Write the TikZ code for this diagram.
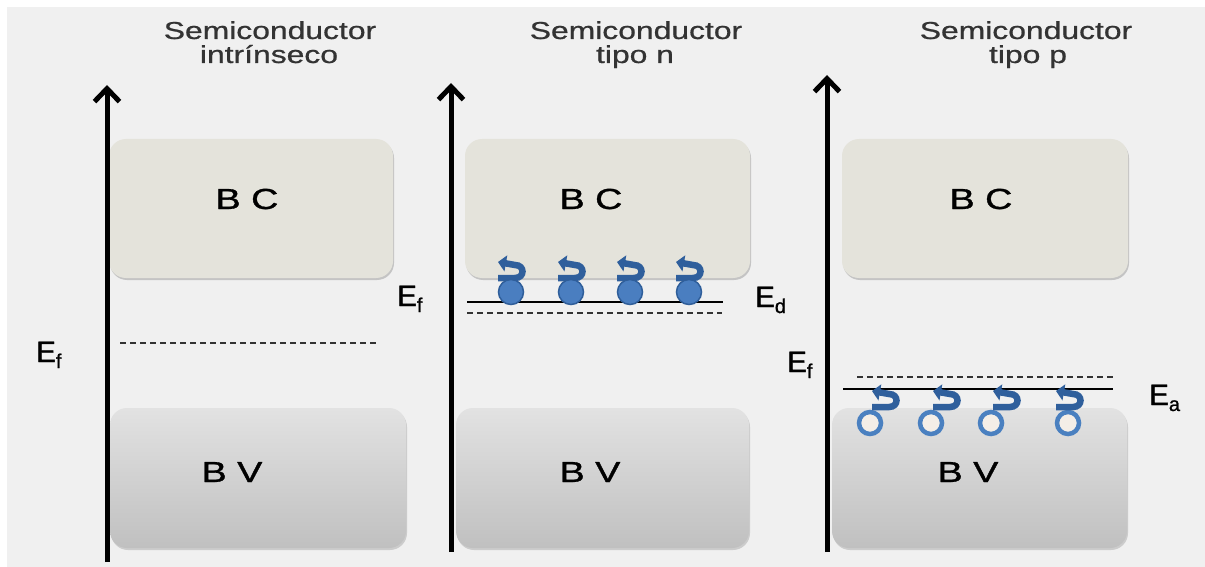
\documentclass[tikz,border=0pt]{standalone}
\usepackage{fontspec}
\setmainfont{Liberation Sans}
\newfontfamily\hv{Liberation Sans}[FakeBold=0.6]
\newfontfamily\hvb{Liberation Sans}[FakeBold=1.0]
\usepackage{graphicx}
\usetikzlibrary{arrows.meta,shadows}
\definecolor{bgc}{HTML}{F0F0F0}
\definecolor{bcfill}{HTML}{E4E3DB}
\definecolor{bvtop}{HTML}{E2E2E2}
\definecolor{bvbot}{HTML}{C0C0C0}
\definecolor{efill}{HTML}{4A7EC0}
\definecolor{edraw}{HTML}{2F5E9A}
\definecolor{curlc}{HTML}{2F5F9C}
\definecolor{holec}{HTML}{4A80C0}
\definecolor{holein}{HTML}{F4EEE7}
\definecolor{titlec}{HTML}{333333}
\newcommand{\wtxt}[1]{\scalebox{1.3}[1]{#1}}
\newcommand{\elab}[2]{E\raisebox{-6pt}{\fontsize{20}{20}\selectfont #2}}
\begin{document}
\begin{tikzpicture}[x=1pt,y=-1pt,
  axisarrow/.style={line width=5pt,-{Straight Barb[length=13pt,width=25pt]}},
  bcbox/.style={rectangle,rounded corners=17pt,fill=bcfill,minimum width=284pt,minimum height=139pt,inner sep=0pt,
     drop shadow={shadow xshift=1pt,shadow yshift=-2pt,opacity=0.18,fill=black}},
  bvbox/.style={rectangle,rounded corners=17pt,top color=bvtop,bottom color=bvbot,minimum width=294pt,minimum height=140pt,inner sep=0pt,
     drop shadow={shadow xshift=1pt,shadow yshift=-2pt,opacity=0.15,fill=black}},
  title/.style={anchor=base,inner sep=0pt,text=titlec,font=\hv\fontsize{24.5}{26}\selectfont},
  band/.style={anchor=base,inner sep=0pt,text=black,font=\hvb\fontsize{29}{30}\selectfont},
  elabel/.style={anchor=base west,inner sep=0pt,text=black,font=\hvb\fontsize{29.5}{30}\selectfont},
  dashedlevel/.style={line width=1.1pt,dash pattern=on 6pt off 4pt,black!80},
  solidlevel/.style={line width=1.4pt,black},
  electron/.style={circle,fill=efill,draw=edraw,line width=1.5pt,minimum size=25pt,inner sep=0pt},
  hole/.style={circle,fill=holein,draw=holec,line width=4.5pt,minimum size=22pt,inner sep=0pt},
  curl/.style={line width=6.5pt,draw=curlc,-{Triangle[length=8pt,width=16pt]}}
]
\useasboundingbox (0,0) rectangle (1205,567);
\fill[white] (0,0) rectangle (1205,567);
\fill[bgc] (7,7) rectangle (1205,567);

% titles
\node[title] (t1a) at (270,39) {\wtxt{Semiconductor}};
\node[title] (t1b) at (269,63) {\wtxt{intrínseco}};
\node[title] (t2a) at (636,39) {\wtxt{Semiconductor}};
\node[title] (t2b) at (635,63) {\wtxt{tipo n}};
\node[title] (t3a) at (1026,39) {\wtxt{Semiconductor}};
\node[title] (t3b) at (1028,63) {\wtxt{tipo p}};

% bands
\node[bcbox] (bc1) at (251,208.5) {};
\node[bcbox,minimum width=285pt] (bc2) at (607.5,208.5) {};
\node[bcbox,minimum width=286pt] (bc3) at (985,208.5) {};
\node[bvbox,minimum width=296pt] (bv1) at (258,478) {};
\node[bvbox,minimum width=293pt] (bv2) at (602.5,478) {};
\node[bvbox,minimum width=295pt] (bv3) at (979.5,478) {};

\node[band] (bc1t) at (247,209) {\wtxt{B C}};
\node[band] (bc2t) at (591,209) {\wtxt{B C}};
\node[band] (bc3t) at (981,209) {\wtxt{B C}};
\node[band] (bv1t) at (232,482) {\wtxt{B V}};
\node[band] (bv2t) at (590,482) {\wtxt{B V}};
\node[band] (bv3t) at (968,482) {\wtxt{B V}};

% energy axes
\coordinate (a1b) at (107,562); \coordinate (a1t) at (107,85);
\coordinate (a2b) at (451,552); \coordinate (a2t) at (451,83);
\coordinate (a3b) at (827,552); \coordinate (a3t) at (827,75);
\draw[axisarrow] (a1b) -- (a1t);
\draw[axisarrow] (a2b) -- (a2t);
\draw[axisarrow] (a3b) -- (a3t);

% levels
\draw[dashedlevel] (120,343) -- (377,343);
\draw[solidlevel] (467,302) -- (723,302);
\draw[dashedlevel] (467,313) -- (722,313);
\draw[dashedlevel] (857,377) -- (1113,377);
\draw[solidlevel] (843,389) -- (1113,389);

% labels
\node[elabel] (ef1) at (36,362) {\elab{E}{f}};
\node[elabel] (ef2) at (397,306) {\elab{E}{f}};
\node[elabel] (ed) at (755,307) {\elab{E}{d}};
\node[elabel] (ef3) at (787,372) {\elab{E}{f}};
\node[elabel] (ea) at (1149,405) {\elab{E}{a}};

% electrons (n-type)
\foreach \cx [count=\i] in {511,571,630,689} {
  \draw[curl,shift={(\cx-13,278)}] (0,0) -- (17,0) .. controls (27,0) and (27,-13) .. (17,-13) -- (0,-16);
  \node[electron] (el\i) at (\cx,292) {};
}

% holes (p-type)
\foreach \cx/\sx [count=\i] in {870/872,931/933,991/993,1068/1056} {
  \node[hole] (h\i) at (\cx,423) {};
  \draw[curl,shift={(\sx,407)}] (0,0) -- (17,0) .. controls (27,0) and (27,-13) .. (17,-13) -- (0,-16);
}
\end{tikzpicture}
\end{document}
